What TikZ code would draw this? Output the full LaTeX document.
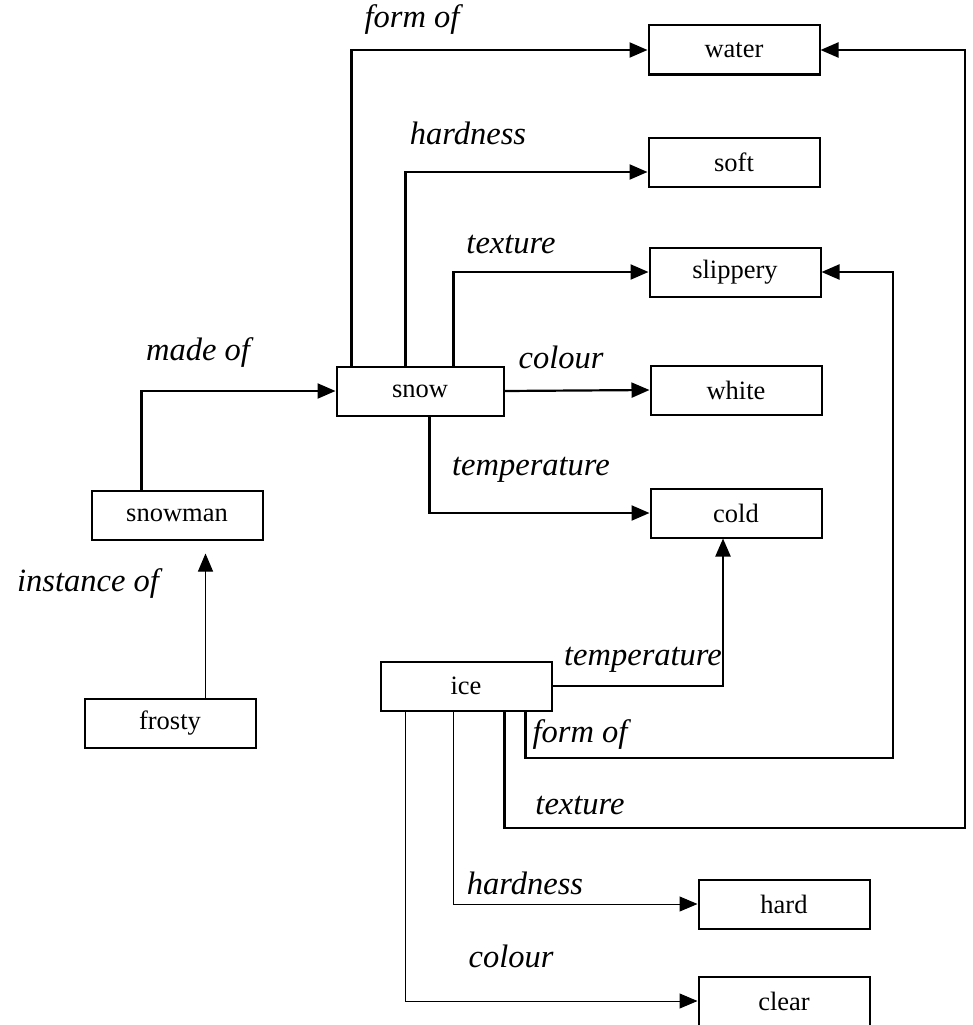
\documentclass[tikz,border=0pt]{standalone}
\usepackage{fontspec}
\setmainfont{Liberation Serif}
\usetikzlibrary{arrows.meta}
\tikzset{
  concept/.style={draw, line width=2pt, minimum width=171pt, minimum height=49pt,
    inner sep=0pt, font=\fontsize{26.5}{30}\selectfont},
  rel/.style={font=\fontsize{32.5}{36}\selectfont\itshape},
  link/.style={line width=2.2pt, -{Triangle[length=18pt,width=15pt]}},
  thinlink/.style={line width=1pt, -{Triangle[length=18pt,width=15pt]}},
}
\begin{document}
\begin{tikzpicture}[x=1pt, y=-1pt]
\useasboundingbox (0,0) rectangle (972,1025);

% concepts
\node[concept] (water)    at (734,50)  {water};
\node[concept] (soft)     at (734,162) {soft};
\node[concept] (slippery) at (735,272) {slippery};
\node[concept] (white)    at (736,390) {white};
\node[concept] (cold)     at (736,513) {cold};
\node[concept, minimum width=167pt] (snow) at (420,391) {snow};
\node[concept] (snowman)  at (177,515) {snowman};
\node[concept] (frosty)   at (170,723) {frosty};
\node[concept] (ice)      at (466,686) {ice};
\node[concept] (hard)     at (784,904) {hard};
\node[concept] (clear)    at (784,1001) {clear};

% relation labels
\node[rel] (l1)  at (412,20)  {form of};
\node[rel] (l2)  at (468,133) {hardness};
\node[rel] (l3)  at (511,245) {texture};
\node[rel] (l4)  at (561,357) {colour};
\node[rel] (l5)  at (531,470) {temperature};
\node[rel] (l6)  at (198,353) {made of};
\node[rel] (l7)  at (88,584)  {instance of};
\node[rel] (l8)  at (643,660) {temperature};
\node[rel] (l9)  at (580,735) {form of};
\node[rel] (l10) at (580,806) {texture};
\node[rel] (l11) at (525,883) {hardness};
\node[rel] (l12) at (511,956) {colour};

% snow relations
\draw[link] (snow.north west) ++(16,0) |- (water.west);
\draw[link] (snow.north west) ++(70,0) |- ([yshift=-10pt]soft.west);
\draw[link] (snow.north west) ++(118,0) |- (slippery.west);
\draw[link] (snow.east) -- (white.west);
\draw[link] (snow.south west) ++(94,0) |- (cold.west);

% snowman and frosty
\draw[link] (snowman.north west) ++(51,0) |- (snow.west);
\coordinate (fr) at ([xshift=122pt]frosty.north west);
\draw[thinlink, shorten >=13pt] (fr) -- (fr |- snowman.south);

% ice relations
\draw[link] (ice.east) -| ([xshift=-13pt]cold.south);
\coordinate (fo) at (893,758);
\draw[link] (ice.south west) ++(146,0) |- (fo) |- (slippery.east);
\coordinate (tx) at (965,828);
\draw[link] (ice.south west) ++(125,0) |- (tx) |- (water.east);
\draw[thinlink] (ice.south west) ++(74,0) |- (hard.west);
\draw[thinlink] (ice.south west) ++(26,0) |- (clear.west);
\end{tikzpicture}
\end{document}
